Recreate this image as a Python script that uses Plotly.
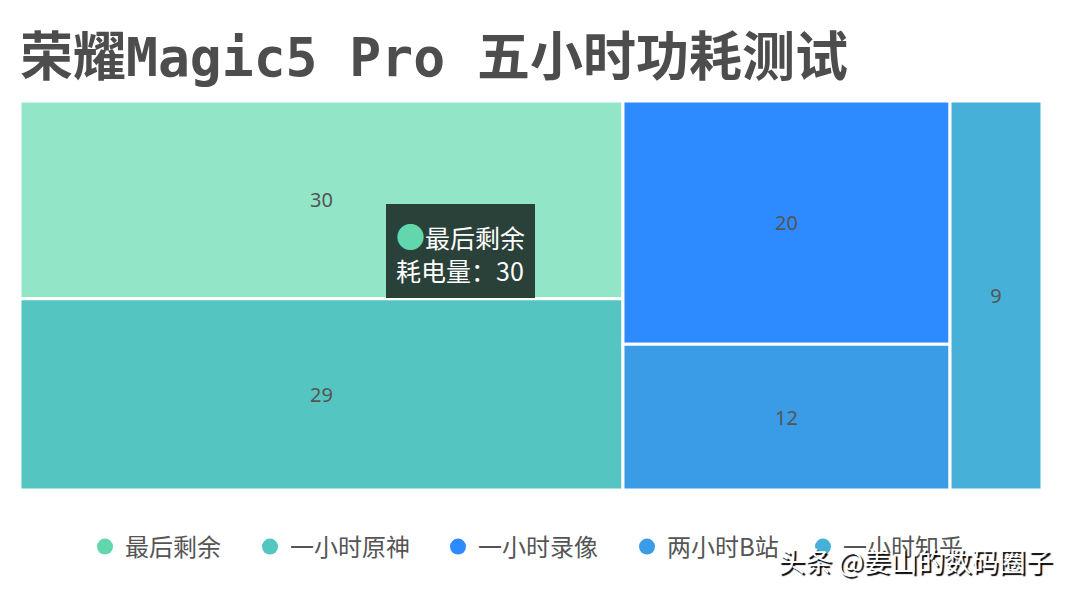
import plotly.graph_objects as go

labels = ["最后剩余", "一小时原神", "一小时录像", "两小时B站", "一小时知乎"]
values = [30, 29, 20, 12, 9]
tile_colors = ["#93E5C8", "#55C5C1", "#2E8BFF", "#3A9BE6", "#47B0D8"]
legend_colors = ["#62D6AC", "#55C5C1", "#2E8BFF", "#3A9BE6", "#47B0D8"]
title_text = "荣耀Magic5 Pro 五小时功耗测试"
tooltip_label = "耗电量"
tooltip_index = 0
watermark = "头条 @姜山的数码圈子"

W, H = 1072, 593
legend_x_px = [85, 250, 438, 627, 803]

fig = go.Figure()
fig.add_trace(go.Treemap(
    labels=labels,
    parents=[""] * len(labels),
    values=values,
    sort=True,
    tiling=dict(packing="squarify", squarifyratio=2, pad=0),
    marker=dict(colors=tile_colors, line=dict(color="white", width=3),
                pad=dict(t=0, l=0, r=0, b=0)),
    texttemplate="%{value}",
    textposition="middle center",
    textfont=dict(family="Noto Sans, Noto Sans CJK SC", size=20, color="#555555"),
    pathbar=dict(visible=False),
    hoverinfo="skip",
    domain=dict(x=[20 / W, 1042 / W], y=[1 - 490 / H, 1 - 101 / H]),
))

legend_layouts = {}
for i, (lab, col) in enumerate(zip(labels, legend_colors)):
    lname = "legend" if i == 0 else "legend%d" % (i + 1)
    fig.add_trace(go.Scatter(
        x=[None], y=[None], mode="markers", name=lab,
        marker=dict(color=col, size=22, symbol="circle"),
        showlegend=True, hoverinfo="skip", legend=lname,
    ))
    legend_layouts[lname] = dict(
        orientation="h", x=legend_x_px[i] / W, xanchor="left",
        y=1 - 547 / H, yanchor="middle",
        font=dict(family="Noto Sans CJK SC", size=24, color="#555555"),
        itemsizing="trace", bgcolor="rgba(0,0,0,0)",
    )

fig.update_layout(
    width=W, height=H,
    margin=dict(l=0, r=0, t=0, b=0),
    paper_bgcolor="white", plot_bgcolor="white",
    xaxis=dict(visible=False), yaxis=dict(visible=False),
    title=dict(
        text=title_text, x=20 / W, xanchor="left", xref="container",
        y=1 - 57 / H, yanchor="middle", yref="container",
        font=dict(family="DejaVu Sans Mono, Noto Sans CJK SC", size=53,
                  color="#4d4d4d", weight="bold"),
    ),
    annotations=[
        dict(
            text=("<span style='color:%s;font-size:29px'>●</span>%s<br>%s：%d"
                  % (legend_colors[tooltip_index], labels[tooltip_index],
                     tooltip_label, values[tooltip_index])),
            x=460 / W, y=1 - 251 / H, xref="paper", yref="paper",
            showarrow=False, align="left",
            font=dict(family="Noto Sans CJK SC", size=25, color="white"),
            bgcolor="#2A4139", borderpad=9, bordercolor="#2A4139",
        ),
        dict(
            text=watermark, x=1055 / W, xanchor="right", y=1 - 560 / H,
            yanchor="middle", xref="paper", yref="paper", showarrow=False,
            font=dict(family="Noto Sans CJK SC", size=27, color="white",
                      shadow="2px 2px 1px #000"),
        ),
    ],
    **legend_layouts,
)

fig.write_html("out.html", config={"displayModeBar": False},
               post_script="document.body.style.margin='0';")
